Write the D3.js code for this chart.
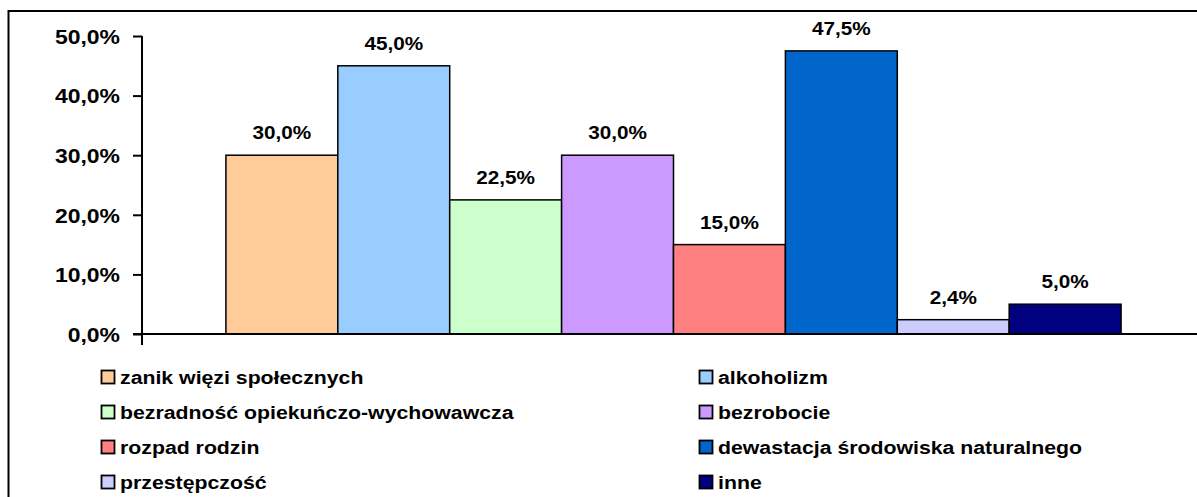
<!DOCTYPE html>
<html>
<head>
<meta charset="utf-8">
<script src="https://cdn.jsdelivr.net/npm/d3@7"></script>
<style>
  body { margin: 0; background: #fff; }
  svg text { font-family: "Liberation Sans", Arial, sans-serif; font-weight: bold; fill: #000; }
</style>
</head>
<body>
<svg id="chart"></svg>
<script>
const categories = [
    'zanik więzi społecznych',
    'alkoholizm',
    'bezradność opiekuńczo-wychowawcza',
    'bezrobocie',
    'rozpad rodzin',
    'dewastacja środowiska naturalnego',
    'przestępczość',
    'inne'
];
const values = [30.0, 45.0, 22.5, 30.0, 15.0, 47.5, 2.4, 5.0];
const colors = ['#FFCC99', '#99CCFF', '#CCFFCC', '#CC99FF', '#FF8080', '#0066CC', '#CCCCFF', '#000080'];
const yTicks = [0, 10, 20, 30, 40, 50];

const width = 1197;
const height = 497;
const stretch = 1.12; // the original text looks a bit wider than plain Arial

const fmt = v => v.toFixed(1).replace('.', ',') + '%';

const svg = d3.select('#chart')
    .attr('width', width)
    .attr('height', height);

// outer chart frame (runs past the window on the right and bottom)
svg.append('rect')
    .attr('x', 8.5)
    .attr('y', 11)
    .attr('width', 1300)
    .attr('height', 600)
    .attr('fill', 'none')
    .attr('stroke', '#000')
    .attr('stroke-width', 2);

const plotLeft = 142;
const plotRight = 1205;
const plotTop = 36;
const plotBottom = 334;

const x = d3.scaleBand()
    .domain(categories)
    .range([plotLeft, plotRight])
    .paddingInner(0)
    .paddingOuter(0.75);

const y = d3.scaleLinear()
    .domain([0, 50])
    .range([plotBottom, plotTop]);

// bars
svg.append('g')
    .selectAll('rect')
    .data(categories)
    .enter().append('rect')
    .attr('x', d => x(d))
    .attr('y', (d, i) => y(values[i]))
    .attr('width', x.bandwidth())
    .attr('height', (d, i) => y(0) - y(values[i]))
    .attr('fill', (d, i) => colors[i])
    .attr('stroke', '#000')
    .attr('stroke-width', 1.5);

// value labels
svg.append('g')
    .selectAll('text')
    .data(categories)
    .enter().append('text')
    .attr('transform', (d, i) => `translate(${x(d) + x.bandwidth() / 2},${y(values[i]) - 16}) scale(${stretch},1)`)
    .attr('text-anchor', 'middle')
    .attr('font-size', '18.5px')
    .text((d, i) => fmt(values[i]));

// y axis
const yAxis = svg.append('g')
    .attr('transform', `translate(${plotLeft},0)`)
    .call(d3.axisLeft(y).tickValues(yTicks).tickSize(9).tickPadding(13).tickFormat(fmt));
yAxis.select('.domain').remove();
yAxis.selectAll('line').attr('stroke', '#000').attr('stroke-width', 2);
yAxis.selectAll('text')
    .attr('font-size', '20.5px')
    .attr('font-family', '"Liberation Sans", Arial, sans-serif')
    .attr('fill', '#000')
    .attr('dy', '0.36em')
    .attr('transform', `scale(${stretch},1)`)
    .attr('x', -22 / stretch);

svg.append('line')
    .attr('x1', plotLeft).attr('x2', plotLeft)
    .attr('y1', y(50)).attr('y2', plotBottom + 11)
    .attr('stroke', '#000').attr('stroke-width', 2);

svg.append('line')
    .attr('x1', plotLeft - 9).attr('x2', plotRight)
    .attr('y1', y(0)).attr('y2', y(0))
    .attr('stroke', '#000').attr('stroke-width', 2);

// legend, two columns
const legendCols = [101, 699];
const legendTop = 377;
const legendStep = 35;

const legend = svg.append('g')
    .selectAll('g')
    .data(categories)
    .enter().append('g')
    .attr('transform', (d, i) => `translate(${legendCols[i % 2]},${legendTop + Math.floor(i / 2) * legendStep})`);

legend.append('rect')
    .attr('x', 0.5)
    .attr('y', -6.5)
    .attr('width', 13)
    .attr('height', 13)
    .attr('fill', (d, i) => colors[i])
    .attr('stroke', '#000')
    .attr('stroke-width', 1.8);

legend.append('text')
    .attr('transform', `translate(19,0) scale(${stretch},1)`)
    .attr('dy', '0.36em')
    .attr('font-size', '19px')
    .text(d => d);
</script>
</body>
</html>
